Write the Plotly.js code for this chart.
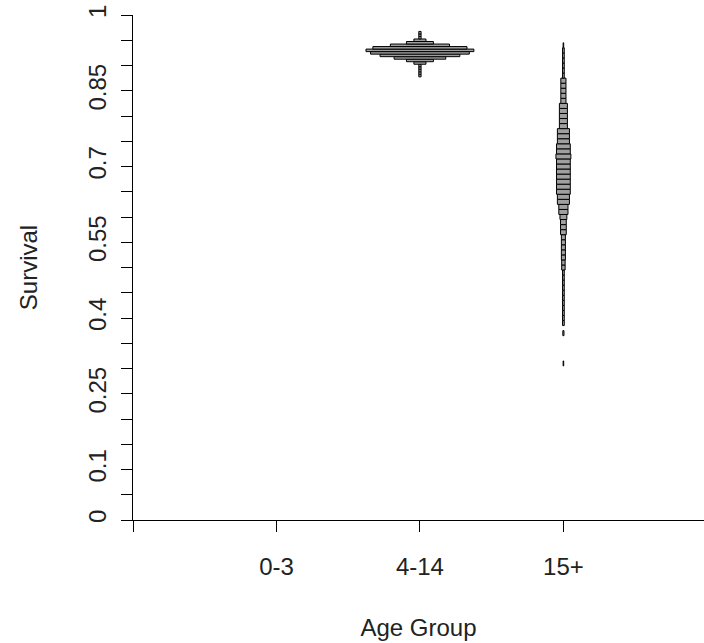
<!DOCTYPE html>
<html>
<head>
<meta charset="utf-8">
<script src="https://cdn.plot.ly/plotly-3.0.1.min.js"></script>
<style>html,body{margin:0;padding:0;background:#fff;}#chart{width:704px;height:643px;}</style>
</head>
<body>
<div id="chart"></div>
<script>
// Age groups (x categories)
const groups = ['0-3', '4-14', '15+'];
const groupPos = [1, 2, 3];

// 4-14 histogram: bin centres and counts (bin width 0.005)
const bins414 = [0.880, 0.885, 0.890, 0.895, 0.900, 0.905, 0.910, 0.915, 0.920,
                 0.925, 0.930, 0.935, 0.940, 0.945, 0.950, 0.955, 0.960, 0.965];
const counts414 = [4, 4, 4, 4, 4, 21, 47, 90, 139, 172, 188, 164, 103, 47, 21, 4, 4, 4];
const binWidth414 = 0.005;

// 15+ histogram: bin centres and counts (bin width 0.01)
const bins15 = [0.31, 0.37, 0.39, 0.40, 0.41, 0.42, 0.43, 0.44, 0.45, 0.46, 0.47, 0.48, 0.49,
                0.50, 0.51, 0.52, 0.53, 0.54, 0.55, 0.56, 0.57, 0.58, 0.59, 0.60, 0.61, 0.62,
                0.63, 0.64, 0.65, 0.66, 0.67, 0.68, 0.69, 0.70, 0.71, 0.72, 0.73, 0.74, 0.75,
                0.76, 0.77, 0.78, 0.79, 0.80, 0.81, 0.82, 0.83, 0.84, 0.85, 0.86, 0.87, 0.88,
                0.89, 0.90, 0.91, 0.92, 0.93, 0.94];
const counts15 = [1, 2, 3, 3, 3, 3, 3, 3, 3, 3, 3, 3, 3,
                  6, 6, 7, 7, 7, 7, 7, 10, 10, 10, 12, 16, 16,
                  21, 21, 24, 24, 24, 24, 24, 24, 24, 26, 24, 24, 21,
                  21, 21, 14, 14, 14, 14, 14, 9, 9, 9, 9, 9, 3,
                  3, 3, 3, 3, 3, 1];
const binWidth15 = 0.01;

// y axis ticks
const yTickVals = [0, 0.05, 0.1, 0.15, 0.2, 0.25, 0.3, 0.35, 0.4, 0.45, 0.5,
                   0.55, 0.6, 0.65, 0.7, 0.75, 0.8, 0.85, 0.9, 0.95, 1];
const yTickText = ['0', '', '0.1', '', '', '0.25', '', '', '0.4', '', '',
                   '0.55', '', '', '0.7', '', '', '0.85', '', '', '1'];

const widthPerCount = 0.004;

function beanTrace(centre, bins, counts, bw) {
  const len = counts.map(c => c * widthPerCount);
  return {
    type: 'bar', orientation: 'h',
    y: bins, x: len, base: len.map(l => centre - l / 2),
    width: bw,
    marker: {color: '#a0a0a0', line: {color: '#000', width: 1}},
    hoverinfo: 'skip', showlegend: false
  };
}

const data = [
  beanTrace(groupPos[1], bins414, counts414, binWidth414),
  beanTrace(groupPos[2], bins15, counts15, binWidth15)
];

const font = {family: 'Liberation Sans, Arial, sans-serif', size: 24, color: '#222'};

const layout = {
  width: 704, height: 643,
  margin: {l: 133, r: 0, t: 15, b: 123},
  paper_bgcolor: '#fff', plot_bgcolor: '#fff',
  barmode: 'overlay',
  font: font,
  xaxis: {
    range: [0, 3.98], showgrid: false, zeroline: false,
    showline: true, linecolor: '#000', linewidth: 1,
    ticks: 'outside', ticklen: 11, tickcolor: '#000', tickwidth: 1,
    tickvals: [0, 1, 2, 3], ticktext: ['', groups[0], groups[1], groups[2]],
    ticklabelstandoff: 14,
    title: {text: 'Age Group', font: font, standoff: 40}
  },
  yaxis: {
    range: [0, 1], showgrid: false, zeroline: false,
    showline: true, linecolor: '#000', linewidth: 1,
    ticks: 'outside', ticklen: 11, tickcolor: '#000', tickwidth: 1,
    tickvals: yTickVals, ticktext: yTickText, tickangle: -90,
    ticklabelstandoff: 5,
    title: {text: 'Survival', font: font, standoff: 40}
  }
};

Plotly.newPlot('chart', data, layout, {staticPlot: true});
</script>
</body>
</html>
